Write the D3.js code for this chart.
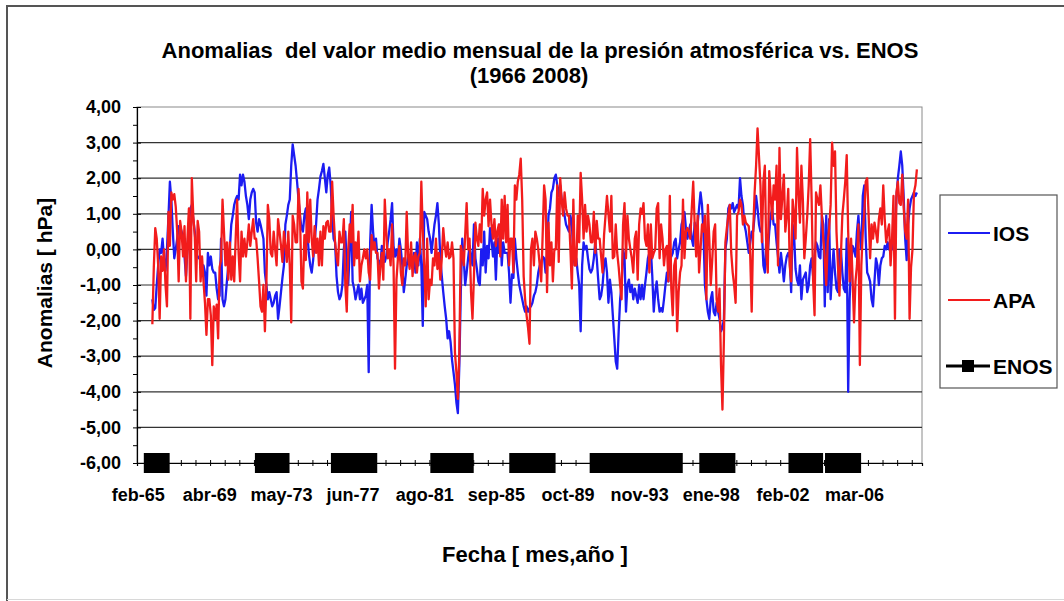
<!DOCTYPE html>
<html>
<head>
<meta charset="utf-8">
<script src="https://cdn.jsdelivr.net/npm/d3@7"></script>
<style>
  html, body { margin: 0; padding: 0; background: #ffffff; }
  svg { display: block; font-family: "Liberation Sans", Arial, sans-serif; }
  .bold { font-weight: bold; fill: #000; }
</style>
</head>
<body>
<svg id="chart" width="1064" height="601"></svg>
<script>
// Monthly categories on the horizontal axis (first category = feb-65)
const categoryCount = 537;
const seriesStart = 10;            // category index of the first monthly value
const tickLabelStep = 49;          // a date label every 49 months
const tickMarkStep = 10;           // a small tick every 10 months
const tickLabels = ["feb-65", "abr-69", "may-73", "jun-77", "ago-81", "sep-85",
                    "oct-89", "nov-93", "ene-98", "feb-02", "mar-06"];
const yTicks = [4, 3, 2, 1, 0, -1, -2, -3, -4, -5, -6];

// IOS: monthly anomaly (hPa)
const ios = [
-1.4,-1.7,-1.65,-1.0,-0.45,0.0,-0.1,0.3,-0.3,-0.6,
0.0,0.9,1.9,1.4,0.5,-0.25,0.0,0.3,0.65,0.65,
0.5,0.3,-0.2,-0.75,0.0,0.7,1.15,1.25,0.85,0.5,
-0.1,-0.2,-0.25,-0.3,-0.45,-0.45,-0.65,-1.3,-0.1,-0.45,
-0.2,-0.55,-0.65,-0.65,-1.1,-1.4,-1.3,0.3,-1.4,-1.6,
-1.4,-0.9,-0.45,0.0,0.7,0.95,1.25,1.4,1.5,1.4,
2.1,1.8,2.1,1.9,1.5,1.25,0.85,1.4,1.6,1.7,
1.6,0.75,0.5,0.85,0.7,0.5,0.3,-0.65,-1.0,-1.4,
-1.2,-1.4,-1.6,-1.5,-1.3,-1.2,-1.95,-1.6,-1.2,-0.8,
-0.45,0.7,0.95,1.25,1.4,2.35,2.95,2.65,2.35,1.9,
1.4,0.95,0.6,0.5,0.95,1.15,0.5,-0.1,-0.45,-0.65,
-0.3,0.2,0.7,1.4,1.7,2.05,2.2,2.4,2.0,1.6,
2.1,2.3,1.8,0.95,0.3,0.2,-0.75,-1.2,-1.4,-1.3,
-1.0,0.0,0.5,-0.45,-1.0,0.0,1.05,-0.9,-1.1,-1.4,
-1.2,-1.0,-1.4,-1.1,-1.5,-1.4,-1.3,-1.0,-3.45,0.2,
1.25,0.5,0.0,0.3,-0.25,-0.35,-0.45,0.1,-0.1,-0.35,
-0.2,0.2,0.5,0.85,1.3,0.1,-0.2,0.0,-0.25,0.3,
0.0,-0.45,-1.2,-0.85,-0.45,-0.2,-0.25,-0.45,-0.35,-0.1,
-0.65,0.2,-0.45,0.3,-0.45,-2.15,1.05,0.95,0.85,0.5,
0.3,-0.1,0.3,0.7,0.95,1.3,0.7,-0.25,-0.75,-1.2,
-1.6,-1.95,-2.5,-2.3,-2.6,-3.1,-3.45,-3.8,-4.3,-4.6,
-3.25,-1.2,0.3,-0.25,-1.0,-0.65,-0.25,0.1,-0.2,-0.45,
0.7,-0.25,-0.55,-0.9,-1.0,0.0,-0.45,0.5,-0.65,0.1,
-0.25,0.6,0.3,-0.2,0.2,-0.85,0.3,-0.1,0.7,-0.45,
0.2,-0.1,-0.1,-0.1,-0.65,-1.5,-0.7,-0.8,0.3,-0.25,
-0.65,-1.0,-1.2,-1.4,-1.6,-1.75,-1.6,-1.75,-1.65,-1.6,
-1.5,-1.3,-1.2,-1.0,-0.65,-0.45,-0.35,-0.2,-0.25,-0.65,
-0.1,0.95,1.15,1.6,1.7,2.0,2.1,1.8,1.5,1.8,
1.4,1.15,0.95,0.7,0.6,0.5,0.95,0.7,-0.2,-0.45,
-0.25,-0.65,-1.0,-2.3,-0.45,0.2,0.0,0.1,-0.25,-0.55,
-0.65,-0.55,-0.25,0.2,-0.25,-0.85,-1.4,-1.3,-1.0,-0.45,
-0.25,-0.65,-1.5,-0.85,-1.2,-1.85,-2.5,-3.15,-3.35,-2.3,
-1.4,-1.0,0.0,-0.2,-1.75,-1.0,-0.85,-1.2,-1.0,-1.4,
-1.1,-1.3,-1.5,-1.0,-1.4,-1.0,-1.4,-1.0,-0.65,-0.25,
-0.1,0.0,-0.75,-1.75,-1.2,-0.9,-1.4,-1.75,-1.65,-1.75,
-1.4,-1.0,-0.65,-0.9,-0.25,-0.2,-0.1,0.2,0.3,-0.25,
0.0,0.2,0.7,0.85,1.05,0.6,0.3,0.5,0.7,0.3,
0.1,0.75,0.5,0.7,1.15,1.6,1.25,0.5,-1.0,-1.4,
-1.75,-1.95,-1.4,-1.2,-1.75,-1.85,-1.5,-1.75,-1.95,-2.3,
-2.2,-1.95,0.0,0.3,1.15,1.25,1.15,1.3,1.05,1.15,
1.25,1.15,2.0,1.5,1.25,0.7,0.5,0.2,-0.1,0.2,
0.5,0.5,0.95,1.5,1.15,0.7,0.5,0.5,-0.45,-0.65,
0.3,-0.1,0.5,0.95,1.15,0.7,0.7,0.2,-0.2,-0.65,
-0.1,-0.45,-0.9,-0.45,-0.2,-0.1,-0.25,-1.2,0.7,0.4,
-0.55,-0.85,-1.0,-0.45,-1.4,-0.85,-0.75,-0.65,-1.2,-1.0,
-0.45,-0.25,-0.75,-0.2,0.2,0.1,-0.2,-0.25,0.95,0.7,
-1.6,0.95,-1.2,0.85,-1.4,-0.65,0.0,-0.65,-1.1,-1.2,
0.0,0.0,-0.65,-1.1,-1.2,0.3,-4.0,-1.4,-0.45,0.1,
0.0,-0.2,0.5,0.95,0.3,0.0,1.5,1.8,0.3,-0.65,
-0.75,-0.9,-1.4,-1.6,-0.9,-0.25,-0.45,-1.0,-0.45,-0.25,
-0.2,0.1,0.0,0.2,0.0,0.1,0.0,0.2,0.3,1.45,
2.0,2.35,2.75,2.35,1.45,0.3,-0.3,0.7,1.15,1.4,
1.5,1.6,1.5,1.6
];

// APA: monthly anomaly (hPa)
const apa = [
-2.1,-0.5,0.6,0.3,-0.45,-1.95,-0.2,-0.6,0.0,-1.0,
-1.6,1.05,0.1,1.6,1.4,1.55,1.2,0.5,-0.9,0.8,
0.5,-0.2,0.65,-0.9,0.3,1.15,-1.95,2.0,0.95,0.4,
-0.9,0.8,0.5,-0.9,-0.2,-0.9,-1.5,-2.4,-1.4,-1.4,
-1.85,-3.25,-1.6,-1.95,-1.55,-2.5,-0.5,-0.3,1.4,0.5,
-0.45,0.2,-0.85,0.2,-0.85,-0.2,-0.9,0.3,1.4,-0.1,
-0.9,0.5,-0.2,0.3,-0.2,0.2,0.7,0.1,0.5,0.85,
0.3,0.3,-0.25,-0.9,-1.6,-1.75,-1.0,-2.3,-1.0,1.25,
0.85,-0.1,-0.2,0.5,0.0,-0.45,0.85,0.5,0.1,-0.35,
0.5,0.1,-0.35,0.5,-0.45,-2.05,0.95,0.7,0.2,0.2,
1.7,0.95,-0.9,-1.1,0.4,-0.3,1.6,0.2,1.4,0.3,
-0.2,0.65,-0.1,0.3,-0.45,0.5,-0.45,0.65,0.3,0.75,
0.8,0.5,0.5,1.9,0.95,0.2,-0.2,-0.45,0.5,0.2,
0.2,0.85,-1.0,-1.75,0.0,0.7,0.2,1.25,-0.45,0.2,
-0.25,0.5,-0.9,-0.45,-0.25,0.0,-0.25,0.0,-0.65,-0.85,
0.4,0.0,0.2,-0.1,-0.1,-1.1,-0.45,-0.1,-0.85,1.4,
0.5,-0.25,0.0,-0.45,0.7,-0.45,-3.35,-0.85,-0.25,0.1,
-0.65,-1.0,-0.25,-0.45,1.05,-0.2,-0.55,0.2,-0.75,-0.2,
-0.1,-0.65,-0.2,-0.1,1.9,0.5,-0.45,-1.6,0.3,-1.4,
-0.85,-1.0,-0.25,-0.45,0.3,-0.55,-0.1,-0.85,-0.25,0.6,
0.1,-0.2,0.2,-0.25,-0.2,0.2,-0.25,-2.9,-3.45,-4.2,
-2.9,0.1,-0.1,-0.45,0.4,1.3,0.0,0.3,-1.2,-1.95,
-0.75,0.75,0.3,0.1,0.7,0.2,1.7,0.95,1.4,1.6,
0.65,1.4,0.7,0.3,0.85,0.1,0.5,0.7,-0.2,1.4,
0.3,1.5,0.2,1.25,-0.45,0.3,0.3,-0.65,1.8,1.4,
1.9,2.1,2.55,1.4,-0.75,-1.4,-1.85,-2.2,-2.65,0.0,
0.3,-0.45,0.5,0.3,0.0,-0.45,-0.9,0.4,1.8,1.4,
-1.2,0.75,-0.45,0.2,-0.9,0.0,0.0,1.8,-0.35,2.0,
1.4,0.95,1.6,1.15,0.95,0.95,0.0,-1.1,1.4,-0.45,
-0.45,0.95,0.2,2.15,1.4,0.3,1.25,0.5,0.95,0.7,
0.2,0.2,1.05,-0.1,0.8,0.3,0.3,-0.2,-0.65,0.4,
0.95,1.5,1.0,0.5,1.5,-0.25,-0.2,0.7,-0.1,-0.5,
-1.0,-1.4,0.7,1.3,-0.25,0.95,0.3,0.0,-0.25,-0.65,
0.3,0.5,-0.85,0.7,1.15,1.0,1.3,0.3,0.1,0.7,
-0.65,0.7,-0.25,-0.1,0.0,1.15,1.3,-0.25,0.7,0.3,
-0.45,0.0,0.1,-0.9,1.5,-1.1,-1.85,-0.45,-0.25,-2.3,
-1.2,-0.65,-0.45,1.4,-0.25,0.5,0.6,0.5,0.3,1.15,
1.9,0.7,-0.2,0.95,-0.65,0.0,0.7,0.5,0.95,-1.4,
1.25,0.3,-1.0,-0.3,0.5,0.7,-1.4,-1.75,-1.1,-3.25,
-4.5,-2.5,0.2,0.6,0.95,1.25,-0.1,-0.65,-1.0,-1.5,
0.95,1.05,1.4,1.25,0.7,0.95,0.75,0.7,0.65,-0.2,
-1.75,0.5,1.6,2.35,3.4,2.6,1.8,0.2,1.9,2.35,
-0.1,-0.65,2.2,1.5,0.85,1.8,1.4,2.35,-0.45,2.85,
0.85,1.5,2.1,0.5,0.95,1.7,-0.45,-0.9,1.4,1.0,
0.3,2.85,1.6,0.75,2.35,1.4,-0.25,0.3,0.95,1.8,
3.1,1.4,-0.85,-1.85,1.6,1.4,1.25,1.8,0.95,0.3,
-0.25,-1.0,0.2,0.6,1.25,3.0,2.35,2.75,0.5,-0.45,
-1.3,-0.2,0.95,1.4,1.9,2.65,0.5,-0.9,0.3,-0.8,
-2.05,-0.9,-0.45,0.7,-3.25,-0.45,0.5,1.0,1.9,2.0,
0.95,-0.25,0.7,0.3,0.75,0.5,0.2,0.85,1.15,0.7,
1.8,0.85,0.2,0.5,0.7,-0.45,0.3,1.5,-1.95,1.6,
1.9,1.3,1.25,2.1,1.15,0.5,0.3,1.4,-1.95,-0.5,
0.0,1.6,1.8,2.25
];

// ENOS (El Niño) episodes as [first, last] category index
const enosPeriods = [[11, 15], [87, 97], [139, 157], [207, 223], [261, 279],
                     [316, 366], [391, 402], [452, 462], [477, 488]];
const enosLevel = -6;

const legendItems = [
  { name: "IOS",  color: "#1c1cf2", kind: "line" },
  { name: "APA",  color: "#f21c1c", kind: "line" },
  { name: "ENOS", color: "#000000", kind: "marker" }
];

const svg = d3.select("#chart");
const plot = { left: 137, right: 922, top: 107, bottom: 463 };

const x = d3.scaleLinear().domain([0, categoryCount]).range([plot.left, plot.right]);
const y = d3.scaleLinear().domain([-6, 4]).range([plot.bottom, plot.top]);
const fmt = v => v.toFixed(2).replace(".", ",");

// Chart frame: dark top and left edges, faint bottom edge
svg.append("line").attr("x1", 6).attr("x2", 1064).attr("y1", 6).attr("y2", 6)
  .attr("stroke", "#555").attr("stroke-width", 2);
svg.append("line").attr("x1", 7).attr("x2", 7).attr("y1", 6).attr("y2", 601)
  .attr("stroke", "#555").attr("stroke-width", 2);
svg.append("line").attr("x1", 7).attr("x2", 1064).attr("y1", 599.5).attr("y2", 599.5)
  .attr("stroke", "#d8d8d8").attr("stroke-width", 1);

// Title
svg.append("text").attr("class", "bold").attr("x", 540).attr("y", 58)
  .attr("text-anchor", "middle").attr("font-size", 22)
  .attr("xml:space", "preserve")
  .text("Anomalias  del valor medio mensual de la presión atmosférica vs. ENOS");
svg.append("text").attr("class", "bold").attr("x", 529).attr("y", 83)
  .attr("text-anchor", "middle").attr("font-size", 22).text("(1966 2008)");

// Plot area border
svg.append("rect").attr("x", plot.left).attr("y", plot.top)
  .attr("width", plot.right - plot.left).attr("height", plot.bottom - plot.top)
  .attr("fill", "none").attr("stroke", "#8a8a8a").attr("stroke-width", 1);

// Horizontal gridlines
svg.append("g").selectAll("line").data(yTicks.filter(v => v > -6 && v < 4)).join("line")
  .attr("x1", plot.left).attr("x2", plot.right)
  .attr("y1", d => y(d)).attr("y2", d => y(d))
  .attr("stroke", "#333").attr("stroke-width", 1.2);

// Series lines
const iosPts = ios.map((v, k) => [seriesStart + k, v]);
const apaPts = apa.map((v, k) => [seriesStart + k, v]);
const line = d3.line().x(d => x(d[0] + 0.5)).y(d => y(d[1]));

svg.append("path").datum(iosPts).attr("d", line)
  .attr("fill", "none").attr("stroke", legendItems[0].color).attr("stroke-width", 2.3)
  .attr("stroke-linejoin", "round");
svg.append("path").datum(apaPts).attr("d", line)
  .attr("fill", "none").attr("stroke", legendItems[1].color).attr("stroke-width", 2.3)
  .attr("stroke-linejoin", "round");

// Y axis: labels with major ticks crossing the axis line, minor ticks at half steps
const yAxisG = svg.append("g").attr("transform", `translate(${plot.left},0)`)
  .call(d3.axisLeft(y).tickValues(yTicks).tickFormat(fmt).tickSize(4).tickPadding(12));
yAxisG.select(".domain").attr("stroke", "#000").attr("stroke-width", 1.2);
yAxisG.selectAll(".tick line").attr("x2", 4).attr("x1", -4).attr("stroke", "#000");
yAxisG.selectAll(".tick text").attr("class", "bold").attr("font-size", 18)
  .attr("font-family", "Liberation Sans, Arial, sans-serif");
const halfTicks = d3.range(-5.5, 4, 1);
svg.append("g").attr("transform", `translate(${plot.left},0)`)
  .call(d3.axisLeft(y).tickValues(halfTicks).tickFormat("").tickSize(4))
  .call(g => g.select(".domain").remove())
  .selectAll(".tick line").attr("stroke", "#000");

// X axis at the bottom of the plot (the -6 level)
const monthTicks = d3.range(0, categoryCount + 1, tickMarkStep);
const xAxisG = svg.append("g").attr("transform", `translate(0,${y(-6)})`)
  .call(d3.axisBottom(x).tickValues(monthTicks).tickFormat("").tickSizeOuter(0).tickSize(3));
xAxisG.select(".domain").attr("stroke", "#000").attr("stroke-width", 1.2);
xAxisG.selectAll(".tick line").attr("y1", -3).attr("y2", 3).attr("stroke", "#000");

const labelAt = tickLabels.map((t, k) => k * tickLabelStep + 0.5);
const xLabG = svg.append("g").attr("transform", `translate(0,${y(-6)})`)
  .call(d3.axisBottom(x).tickValues(labelAt).tickSize(0).tickPadding(25)
    .tickFormat((d, k) => tickLabels[k]));
xLabG.select(".domain").remove();
xLabG.selectAll(".tick text").attr("class", "bold").attr("font-size", 18)
  .attr("font-family", "Liberation Sans, Arial, sans-serif");

// ENOS episodes: square markers at the -6 level, one per month
const enosPts = enosPeriods.flatMap(([a, b]) => d3.range(a, b + 1).map(i => [i, enosLevel]));
const mSize = 20;
enosPeriods.forEach(([a, b]) => {
  svg.append("path").datum(d3.range(a, b + 1).map(i => [i, enosLevel])).attr("d", line)
    .attr("fill", "none").attr("stroke", "#000").attr("stroke-width", 3);
});
svg.append("g").selectAll("rect").data(enosPts).join("rect")
  .attr("x", d => x(d[0] + 0.5) - mSize / 2).attr("y", d => y(d[1]) - mSize / 2)
  .attr("width", mSize).attr("height", mSize).attr("fill", "#000");

// Axis titles
svg.append("text").attr("class", "bold").attr("font-size", 21)
  .attr("transform", "translate(52,283) rotate(-90)").attr("text-anchor", "middle")
  .text("Anomalias [ hPa]");
svg.append("text").attr("class", "bold").attr("font-size", 22)
  .attr("x", 535).attr("y", 562).attr("text-anchor", "middle")
  .attr("xml:space", "preserve").text("Fecha [ mes,año ]");

// Legend
const lg = svg.append("g");
lg.append("rect").attr("x", 940).attr("y", 195).attr("width", 117).attr("height", 193)
  .attr("fill", "#fff").attr("stroke", "#555").attr("stroke-width", 1.2);
const rowY = [233, 300, 366];
legendItems.forEach((it, k) => {
  const g = lg.append("g").attr("transform", `translate(0,${rowY[k]})`);
  if (it.kind === "line") {
    g.append("line").attr("x1", 948).attr("x2", 990).attr("y1", 0).attr("y2", 0)
      .attr("stroke", it.color).attr("stroke-width", 2);
  } else {
    g.append("line").attr("x1", 946).attr("x2", 990).attr("y1", 0).attr("y2", 0)
      .attr("stroke", it.color).attr("stroke-width", 3);
    g.append("rect").attr("x", 962).attr("y", -6).attr("width", 12).attr("height", 12)
      .attr("fill", it.color);
  }
  g.append("text").attr("class", "bold").attr("font-size", 21)
    .attr("x", 993).attr("y", 8).text(it.name);
});
</script>
</body>
</html>
